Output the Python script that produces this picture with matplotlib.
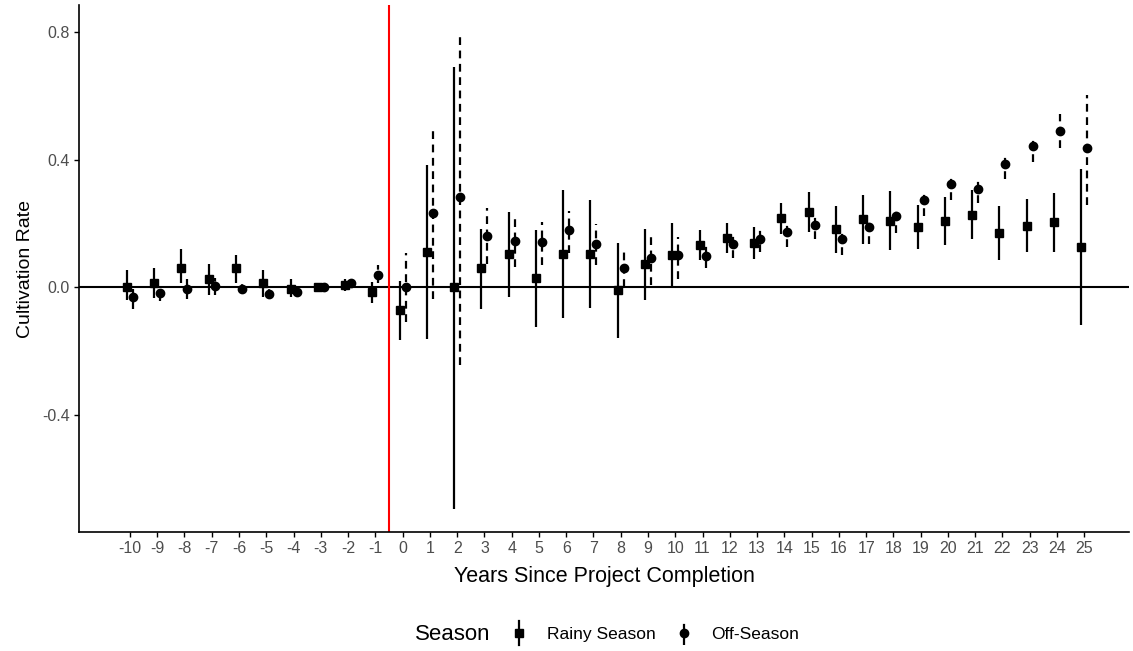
import matplotlib.pyplot as plt
import numpy as np
from matplotlib.legend_handler import HandlerBase
from matplotlib.lines import Line2D

plt.rcParams['font.family'] = ['Liberation Sans', 'DejaVu Sans']

# Event-study estimates
years = np.arange(-10, 26)

rainy = [0.0, 0.012, 0.06, 0.024, 0.06, 0.012, -0.007, 0.0, 0.006, -0.015,
         -0.072, 0.111, 0.0, 0.059, 0.104, 0.029, 0.104, 0.104, -0.009, 0.074,
         0.10, 0.132, 0.153, 0.139, 0.217, 0.236, 0.182, 0.213, 0.208, 0.19,
         0.208, 0.228, 0.17, 0.192, 0.205, 0.126]
rainy_lo = [-0.041, -0.035, 0.012, -0.025, 0.014, -0.03, -0.03, 0.0, -0.012, -0.05,
            -0.166, -0.164, -0.696, -0.07, -0.03, -0.125, -0.098, -0.065, -0.159, -0.039,
            0.001, 0.085, 0.106, 0.087, 0.168, 0.172, 0.106, 0.135, 0.116, 0.121,
            0.132, 0.15, 0.085, 0.109, 0.111, -0.119]
rainy_hi = [0.053, 0.06, 0.12, 0.074, 0.10, 0.053, 0.025, 0.0, 0.025, 0.017,
            0.019, 0.385, 0.691, 0.184, 0.236, 0.179, 0.304, 0.273, 0.139, 0.184,
            0.202, 0.179, 0.20, 0.189, 0.265, 0.299, 0.254, 0.289, 0.301, 0.257,
            0.283, 0.304, 0.255, 0.276, 0.296, 0.372]

offs = [-0.032, -0.018, -0.007, 0.003, -0.007, -0.02, -0.015, 0.0, 0.014, 0.038,
        0.0, 0.234, 0.283, 0.16, 0.145, 0.142, 0.181, 0.134, 0.061, 0.09,
        0.10, 0.098, 0.134, 0.151, 0.174, 0.195, 0.15, 0.19, 0.223, 0.273,
        0.323, 0.307, 0.386, 0.442, 0.491, 0.437]
offs_lo = [-0.068, -0.042, -0.038, -0.025, -0.015, -0.032, -0.025, 0.0, 0.004, 0.013,
           -0.109, -0.036, -0.245, 0.074, 0.064, 0.069, 0.106, 0.069, 0.001, 0.008,
           0.027, 0.059, 0.093, 0.109, 0.126, 0.15, 0.10, 0.137, 0.17, 0.223,
           0.273, 0.263, 0.341, 0.393, 0.438, 0.257]
offs_hi = [-0.005, 0.005, 0.025, 0.03, 0.01, -0.005, -0.005, 0.0, 0.022, 0.07,
           0.106, 0.503, 0.793, 0.25, 0.223, 0.205, 0.238, 0.198, 0.121, 0.168,
           0.158, 0.135, 0.174, 0.187, 0.207, 0.228, 0.179, 0.216, 0.247, 0.301,
           0.351, 0.339, 0.419, 0.472, 0.545, 0.602]

rainy = np.array(rainy)
offs = np.array(offs)
r_err = [rainy - np.array(rainy_lo), np.array(rainy_hi) - rainy]
o_err = [offs - np.array(offs_lo), np.array(offs_hi) - offs]

DASH = (0, (3.5, 2.5))


class PointRangeHandler(HandlerBase):
    # vertical line with a marker on top, like ggplot's pointrange key
    def __init__(self, marker, ls):
        super().__init__()
        self.marker = marker
        self.ls = ls

    def create_artists(self, legend, orig_handle, xdescent, ydescent,
                       width, height, fontsize, trans):
        cx = width / 2 - xdescent
        cy = height / 2 - ydescent
        half = 0.7 * fontsize
        bar = Line2D([cx, cx], [cy - half, cy + half], color='black',
                     lw=1.6, linestyle=self.ls, transform=trans)
        pt = Line2D([cx], [cy], marker=self.marker, color='black', ms=6,
                    linestyle='none', transform=trans)
        return [bar, pt]


fig = plt.figure(figsize=(11.33, 6.51), dpi=100)
ax = fig.add_axes([0.0697, 0.1828, 0.927, 0.809])

ax.axhline(0, color='black', lw=1.5, zorder=1)
ax.axvline(-0.5, color='#ff0000', lw=1.5, zorder=1)

dodge = 0.11
eb1 = ax.errorbar(years - dodge, rainy, yerr=r_err, fmt='s', color='black',
                  ms=6, elinewidth=1.6, capsize=0, label='Rainy Season', zorder=3)
eb2 = ax.errorbar(years + dodge, offs, yerr=o_err, fmt='o', color='black',
                  ms=6, elinewidth=1.6, capsize=0, label='Off-Season', zorder=3)
eb2[2][0].set_linestyle(DASH)

ax.set_xlim(-11.87, 26.65)
ax.set_ylim(-0.769, 0.885)
ax.set_xticks(years)
ax.set_xticklabels([str(v) for v in years])
ax.set_yticks([-0.4, 0.0, 0.4, 0.8])
ax.set_yticklabels(['-0.4', '0.0', '0.4', '0.8'])
ax.tick_params(labelcolor='#4d4d4d', labelsize=11.5, length=3.6, width=1,
               color='black', pad=3)

for s in ['top', 'right']:
    ax.spines[s].set_visible(False)
for s in ['left', 'bottom']:
    ax.spines[s].set_linewidth(1.2)

ax.set_xlabel('Years Since Project Completion', fontsize=15.5, labelpad=7)
ax.set_ylabel('Cultivation Rate', fontsize=14, labelpad=6)

fig.text(0.366, 0.025, 'Season', fontsize=16, va='center', ha='left')
leg = fig.legend(handles=[eb1, eb2], loc='center', bbox_to_anchor=(0.578, 0.025),
                 ncol=2, frameon=False, fontsize=12.5, handlelength=1.0,
                 columnspacing=1.15, handletextpad=1.08,
                 handler_map={eb1: PointRangeHandler('s', '-'),
                              eb2: PointRangeHandler('o', DASH)})

plt.savefig('out.png', dpi=100)
plt.close()
